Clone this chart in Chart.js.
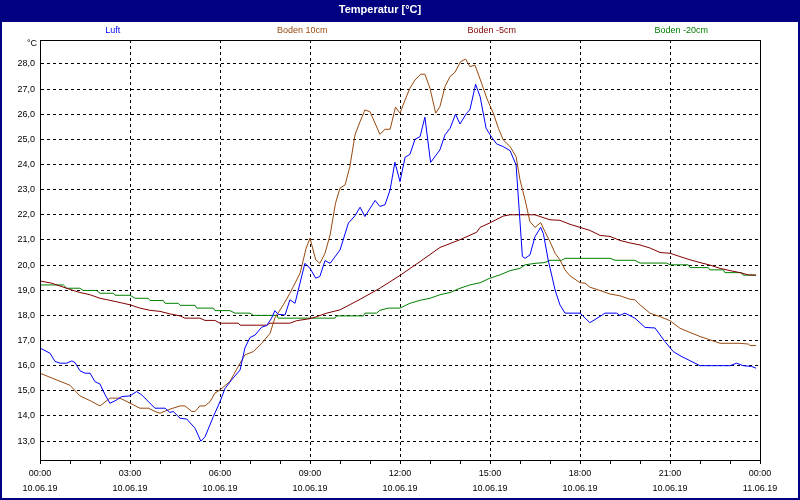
<!DOCTYPE html>
<html lang="de">
<head>
    <meta charset="UTF-8">
    <title>Temperatur</title>
    <style>
        html, body { margin: 0; padding: 0; background: #fff; }
        #box { width: 800px; height: 500px; }
    </style>
</head>
<body>
    <div id="box">
        <canvas id="myChart" width="800" height="500"></canvas>
    </div>
    <script src="https://cdn.jsdelivr.net/npm/chart.js"></script>
    <script>
        // Messwerte 10.06.19, Zeit in Stunden ab 00:00
        var serienNamen = ["Luft", "Boden 10cm", "Boden -5cm", "Boden -20cm"];
        var serienFarben = ["#0000ff", "#99490f", "#800000", "#008000"];

        var zeitLabels = ["00:00", "03:00", "06:00", "09:00", "12:00", "15:00", "18:00", "21:00", "00:00"];
        var datumLabels = ["10.06.19", "10.06.19", "10.06.19", "10.06.19", "10.06.19", "10.06.19", "10.06.19", "10.06.19", "11.06.19"];

        var luftZeit = [0, 0.33, 0.5, 0.67, 0.89, 1.06, 1.17, 1.33, 1.5, 1.67, 1.83, 2.0, 2.17, 2.33, 2.5, 2.72, 3.0, 3.22, 3.39, 3.83, 4.17, 4.33, 4.44, 4.67, 4.89, 5.17, 5.36, 5.5, 5.78, 6.0, 6.17, 6.39, 6.67, 6.83, 7.0, 7.17, 7.39, 7.56, 7.72, 7.83, 7.94, 8.17, 8.33, 8.5, 8.61, 8.83, 9.0, 9.19, 9.33, 9.5, 9.67, 10.0, 10.28, 10.5, 10.67, 10.83, 11.17, 11.33, 11.5, 11.67, 11.83, 12.0, 12.17, 12.33, 12.5, 12.67, 12.83, 13.02, 13.33, 13.5, 13.67, 13.85, 14.0, 14.22, 14.33, 14.52, 14.67, 14.87, 15.06, 15.22, 15.44, 15.67, 15.87, 16.08, 16.17, 16.33, 16.5, 16.69, 16.78, 16.94, 17.17, 17.33, 17.5, 18.0, 18.33, 18.72, 18.83, 19.22, 19.33, 19.5, 19.83, 20.17, 20.5, 20.83, 21.11, 21.33, 22.0, 23.0, 23.22, 23.44, 23.72, 23.87];
        var luftWerte = [16.70, 16.50, 16.17, 16.10, 16.10, 16.19, 16.12, 15.80, 15.70, 15.70, 15.37, 15.27, 14.84, 14.51, 14.60, 14.77, 14.80, 14.97, 14.84, 14.31, 14.31, 14.14, 14.18, 13.91, 13.88, 13.51, 13.00, 13.17, 13.98, 14.57, 15.10, 15.44, 15.83, 16.70, 17.12, 17.22, 17.53, 17.60, 17.89, 18.19, 18.04, 18.02, 18.62, 18.48, 19.01, 20.07, 19.87, 19.48, 19.55, 20.18, 20.07, 20.60, 21.67, 21.96, 22.30, 21.93, 22.57, 22.33, 22.40, 22.99, 24.09, 23.32, 24.29, 24.40, 25.00, 25.11, 25.88, 24.08, 24.58, 25.18, 25.44, 26.00, 25.61, 26.04, 26.17, 27.19, 26.70, 25.44, 25.08, 24.82, 24.71, 24.55, 23.98, 20.34, 20.27, 20.40, 21.13, 21.50, 21.25, 20.20, 19.01, 18.42, 18.09, 18.09, 17.71, 18.00, 18.09, 18.09, 18.00, 18.09, 17.89, 17.52, 17.50, 16.96, 16.56, 16.40, 16.00, 16.00, 16.10, 16.00, 15.97, 15.90];

        var boden10Zeit = [0, 0.5, 1.0, 1.33, 1.67, 2.0, 2.33, 2.67, 3.0, 3.33, 3.61, 3.83, 4.0, 4.33, 4.67, 4.83, 5.06, 5.17, 5.33, 5.5, 5.67, 5.83, 6.0, 6.33, 6.67, 6.83, 7.11, 7.39, 7.67, 7.83, 8.11, 8.33, 8.67, 8.87, 9.0, 9.19, 9.33, 9.5, 9.67, 9.85, 10.0, 10.17, 10.33, 10.5, 10.67, 10.83, 11.0, 11.33, 11.5, 11.67, 11.85, 12.0, 12.17, 12.33, 12.5, 12.69, 12.83, 13.0, 13.19, 13.33, 13.5, 13.67, 13.83, 14.02, 14.19, 14.33, 14.5, 14.72, 14.89, 15.11, 15.28, 15.44, 15.67, 15.87, 16.0, 16.17, 16.33, 16.5, 16.69, 16.83, 17.0, 17.17, 17.33, 17.5, 17.67, 18.0, 18.17, 18.33, 18.67, 19.0, 19.33, 19.67, 19.83, 20.0, 20.33, 20.67, 21.0, 21.33, 21.67, 22.0, 22.33, 22.67, 23.33, 23.61, 23.67, 23.87];
        var boden10Werte = [15.70, 15.46, 15.22, 14.80, 14.61, 14.40, 14.71, 14.71, 14.51, 14.31, 14.31, 14.18, 14.11, 14.27, 14.40, 14.40, 14.18, 14.18, 14.40, 14.40, 14.57, 14.91, 15.04, 15.37, 16.10, 16.43, 16.56, 16.89, 17.29, 17.90, 18.42, 18.88, 19.68, 20.67, 21.07, 20.21, 20.07, 20.47, 21.20, 22.46, 23.06, 23.19, 23.92, 25.18, 25.71, 26.17, 26.10, 25.20, 25.40, 25.40, 26.28, 26.04, 26.57, 27.03, 27.36, 27.59, 27.59, 27.03, 26.04, 26.30, 27.10, 27.50, 27.66, 28.09, 28.19, 27.89, 27.95, 27.23, 26.64, 26.04, 25.44, 24.98, 24.71, 24.31, 23.39, 22.59, 21.73, 21.50, 21.69, 21.33, 20.93, 20.47, 20.21, 19.81, 19.57, 19.30, 19.28, 19.12, 18.99, 18.85, 18.78, 18.64, 18.62, 18.42, 18.09, 17.95, 17.79, 17.49, 17.32, 17.16, 17.03, 16.89, 16.89, 16.86, 16.80, 16.80];

        var boden5Zeit = [0, 0.39, 1.06, 1.33, 1.67, 2.0, 2.33, 2.67, 3.0, 3.33, 3.67, 4.0, 4.33, 4.67, 4.83, 5.33, 5.5, 5.83, 6.0, 6.61, 6.67, 7.56, 7.67, 8.33, 8.56, 9.0, 9.17, 9.56, 10.0, 10.67, 11.33, 12.0, 12.67, 13.33, 14.0, 14.56, 14.67, 15.0, 15.44, 15.67, 16.5, 16.67, 17.0, 17.33, 17.67, 18.0, 18.33, 18.67, 19.0, 19.33, 19.67, 20.0, 20.33, 20.67, 21.0, 21.33, 21.67, 22.0, 22.33, 22.67, 23.0, 23.33, 23.61, 23.87];
        var boden5Werte = [19.37, 19.28, 19.01, 18.91, 18.82, 18.68, 18.60, 18.51, 18.42, 18.29, 18.20, 18.16, 18.06, 17.98, 17.89, 17.89, 17.80, 17.80, 17.69, 17.69, 17.61, 17.61, 17.69, 17.69, 17.79, 17.87, 17.93, 18.09, 18.22, 18.64, 19.08, 19.59, 20.14, 20.70, 21.01, 21.31, 21.50, 21.68, 21.95, 22.00, 22.00, 21.93, 21.80, 21.78, 21.62, 21.50, 21.38, 21.18, 21.14, 20.98, 20.88, 20.80, 20.68, 20.50, 20.47, 20.34, 20.21, 20.10, 20.00, 19.87, 19.78, 19.70, 19.61, 19.60];

        var boden20Zeit = [0, 0.78, 0.89, 1.33, 1.44, 1.89, 2.0, 2.44, 2.5, 3.0, 3.17, 3.61, 3.67, 4.11, 4.17, 4.61, 4.67, 5.17, 5.22, 5.78, 5.83, 6.33, 6.5, 7.0, 7.11, 7.89, 7.94, 9.83, 9.89, 10.78, 10.83, 11.22, 11.33, 11.61, 12.0, 12.33, 12.67, 13.0, 13.33, 13.67, 14.0, 14.33, 14.67, 15.0, 15.33, 15.67, 16.0, 16.17, 16.5, 16.83, 17.0, 17.39, 17.5, 19.0, 19.17, 19.83, 20.0, 20.89, 21.0, 21.61, 21.67, 22.28, 22.33, 22.78, 22.83, 23.39, 23.44, 23.87];
        var boden20Werte = [19.21, 19.21, 19.08, 19.08, 18.99, 18.99, 18.88, 18.88, 18.80, 18.80, 18.68, 18.68, 18.59, 18.59, 18.48, 18.48, 18.40, 18.40, 18.29, 18.29, 18.19, 18.19, 18.09, 18.09, 18.00, 18.00, 17.89, 17.89, 17.98, 17.98, 18.09, 18.09, 18.20, 18.29, 18.29, 18.48, 18.60, 18.68, 18.82, 18.91, 19.08, 19.21, 19.30, 19.48, 19.61, 19.78, 19.87, 20.01, 20.07, 20.10, 20.19, 20.19, 20.27, 20.27, 20.19, 20.19, 20.08, 20.08, 20.01, 20.01, 19.90, 19.90, 19.81, 19.81, 19.70, 19.70, 19.60, 19.60];

        function punkte(zeit, werte) {
            var liste = [];
            for (var i = 0; i < zeit.length; i++) {
                liste.push({ x: zeit[i], y: werte[i] });
            }
            return liste;
        }

        var alleZeiten = [luftZeit, boden10Zeit, boden5Zeit, boden20Zeit];
        var alleWerte = [luftWerte, boden10Werte, boden5Werte, boden20Werte];

        var datasets = [];
        for (var i = 0; i < serienNamen.length; i++) {
            datasets.push({
                label: serienNamen[i],
                data: punkte(alleZeiten[i], alleWerte[i]),
                borderColor: serienFarben[i],
                borderWidth: 1,
                pointRadius: 0,
                tension: 0,
                fill: false
            });
        }

        // Rahmen, Titelbalken, Legende und Einheit
        var rahmenPlugin = {
            id: "rahmen",
            beforeDraw: function (chart) {
                var ctx = chart.ctx;
                ctx.save();
                ctx.fillStyle = "#ffffff";
                ctx.fillRect(0, 0, chart.width, chart.height);
                ctx.fillStyle = "#000080";
                ctx.fillRect(0, 0, chart.width, 20);
                ctx.restore();
            },
            afterDraw: function (chart) {
                var ctx = chart.ctx;
                var a = chart.chartArea;
                ctx.save();
                ctx.strokeStyle = "#000000";
                ctx.lineWidth = 1;
                ctx.strokeRect(a.left + 0.5, a.top + 0.5, a.right - a.left, a.bottom - a.top);

                ctx.strokeStyle = "#000080";
                ctx.lineWidth = 2;
                ctx.strokeRect(1, 21, chart.width - 2, chart.height - 22);

                ctx.font = "9px 'Liberation Sans'";
                ctx.textBaseline = "middle";
                ctx.textAlign = "right";
                ctx.fillStyle = "#000000";
                ctx.fillText("°C", 37, 44);

                ctx.textAlign = "center";
                var spalte = 189.5;
                for (var i = 0; i < serienNamen.length; i++) {
                    ctx.fillStyle = serienFarben[i];
                    ctx.fillText(serienNamen[i], 18 + spalte * (i + 0.5), 31);
                }
                ctx.restore();
            }
        };

        Chart.defaults.font.family = "'Liberation Sans', Arial, sans-serif";
        Chart.defaults.color = "#000000";

        var config = {
            type: "line",
            data: { datasets: datasets },
            options: {
                responsive: false,
                animation: false,
                layout: { padding: { left: 0, right: 40, top: 0, bottom: 0 } },
                plugins: {
                    legend: { display: false },
                    tooltip: { enabled: false },
                    title: {
                        display: true,
                        text: "Temperatur [°C]",
                        color: "#ffffff",
                        font: { size: 11, weight: "bold", lineHeight: "14px" },
                        padding: { top: 3, bottom: 23 }
                    }
                },
                scales: {
                    x: {
                        type: "linear",
                        min: 0,
                        max: 24,
                        afterFit: function (scale) { scale.height = 40; },
                        ticks: {
                            stepSize: 1,
                            autoSkip: false,
                            maxRotation: 0,
                            padding: 2,
                            font: { size: 9, lineHeight: "15px" },
                            callback: function (wert) {
                                if (wert % 3 !== 0) return "";
                                var k = wert / 3;
                                return [zeitLabels[k], datumLabels[k]];
                            }
                        },
                        grid: {
                            color: function (c) {
                                return c.tick && c.tick.value % 3 === 0 ? "#000000" : "rgba(0,0,0,0)";
                            },
                            tickColor: "#000000",
                            tickLength: 4,
                            tickBorderDash: []
                        },
                        border: { display: true, color: "#000000", dash: [3, 3] }
                    },
                    y: {
                        min: 12.25,
                        max: 28.95,
                        afterFit: function (scale) { scale.width = 40; },
                        ticks: {
                            stepSize: 1,
                            includeBounds: false,
                            padding: 5,
                            font: { size: 9 },
                            callback: function (wert) {
                                return wert.toFixed(1).replace(".", ",");
                            }
                        },
                        grid: {
                            color: "#000000",
                            drawTicks: false,
                            tickLength: 0
                        },
                        border: { display: true, color: "#000000", dash: [3, 3] }
                    }
                }
            },
            plugins: [rahmenPlugin]
        };

        new Chart(document.getElementById("myChart"), config);
    </script>
</body>
</html>
